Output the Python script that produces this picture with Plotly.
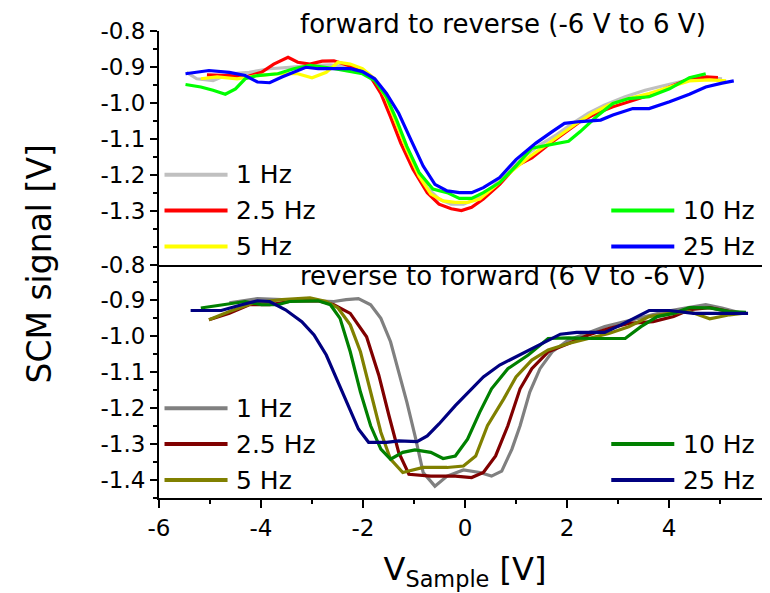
import plotly.graph_objects as go

# ---------------- data ----------------
freq_labels = ["1 Hz", "2.5 Hz", "5 Hz", "10 Hz", "25 Hz"]
top_colors = ["#C0C0C0", "#FF0000", "#FFFF00", "#00FF00", "#0000FF"]
bottom_colors = ["#808080", "#800000", "#808000", "#008000", "#000080"]

top_title = "forward to reverse (-6 V to 6 V)"
bottom_title = "reverse to forward (6 V to -6 V)"

# forward to reverse (top panel)
fr_1hz_v = [-5.46, -5.26, -4.94, -4.62, -4.23, -3.83, -3.44, -3.04, -2.64, -2.25, -1.93, -1.69, -1.46, -1.22, -0.98, -0.74, -0.51, -0.27, -0.03, 0.21, 0.52, 0.84, 1.16, 1.47, 1.79, 2.11, 2.42, 2.74, 3.14, 3.53, 3.93, 4.32, 4.72, 5.04]
fr_1hz_s = [-0.915, -0.933, -0.938, -0.919, -0.915, -0.905, -0.901, -0.896, -0.894, -0.901, -0.919, -0.956, -1.020, -1.103, -1.176, -1.236, -1.268, -1.282, -1.282, -1.268, -1.236, -1.194, -1.149, -1.117, -1.089, -1.057, -1.029, -1.006, -0.983, -0.965, -0.951, -0.938, -0.930, -0.933]

fr_2p5hz_v = [-5.06, -4.62, -4.31, -3.99, -3.75, -3.47, -3.28, -3.04, -2.80, -2.57, -2.33, -2.09, -1.85, -1.65, -1.46, -1.26, -1.02, -0.74, -0.51, -0.27, -0.07, 0.13, 0.36, 0.68, 1.00, 1.31, 1.63, 1.95, 2.26, 2.58, 2.90, 3.21, 3.61, 4.01, 4.32, 4.72, 4.96]
fr_2p5hz_s = [-0.922, -0.924, -0.928, -0.915, -0.892, -0.873, -0.887, -0.892, -0.884, -0.883, -0.894, -0.905, -0.928, -0.974, -1.039, -1.112, -1.185, -1.250, -1.282, -1.295, -1.300, -1.291, -1.268, -1.227, -1.176, -1.153, -1.117, -1.085, -1.052, -1.029, -1.011, -0.997, -0.979, -0.956, -0.938, -0.928, -0.930]

fr_5hz_v = [-5.18, -4.86, -4.47, -4.07, -3.67, -3.28, -3.00, -2.72, -2.49, -2.25, -2.01, -1.77, -1.54, -1.34, -1.14, -0.90, -0.67, -0.43, -0.19, 0.05, 0.29, 0.60, 0.92, 1.24, 1.55, 1.87, 2.19, 2.50, 2.82, 3.21, 3.61, 4.01, 4.40, 4.80, 5.12]
fr_5hz_s = [-0.933, -0.928, -0.933, -0.924, -0.919, -0.919, -0.930, -0.915, -0.887, -0.892, -0.905, -0.933, -0.988, -1.057, -1.130, -1.204, -1.254, -1.273, -1.277, -1.277, -1.268, -1.231, -1.190, -1.153, -1.121, -1.089, -1.057, -1.029, -1.006, -0.988, -0.974, -0.956, -0.939, -0.936, -0.939]

fr_10hz_v = [-5.48, -5.18, -4.94, -4.70, -4.50, -4.31, -4.07, -3.67, -3.36, -3.04, -2.64, -2.33, -2.01, -1.77, -1.54, -1.34, -1.14, -0.90, -0.63, -0.35, -0.11, 0.13, 0.36, 0.68, 1.00, 1.31, 1.63, 2.03, 2.26, 2.58, 2.90, 3.21, 3.61, 4.01, 4.40, 4.72]
fr_10hz_s = [-0.949, -0.956, -0.965, -0.976, -0.961, -0.933, -0.924, -0.919, -0.905, -0.896, -0.903, -0.910, -0.919, -0.938, -0.983, -1.048, -1.121, -1.194, -1.240, -1.250, -1.266, -1.266, -1.250, -1.222, -1.176, -1.126, -1.117, -1.107, -1.080, -1.038, -1.002, -0.988, -0.983, -0.961, -0.930, -0.919]

fr_25hz_v = [-5.48, -5.02, -4.62, -4.31, -4.07, -3.83, -3.59, -3.36, -3.12, -2.88, -2.57, -2.25, -2.01, -1.77, -1.54, -1.30, -1.06, -0.82, -0.59, -0.35, -0.11, 0.13, 0.36, 0.68, 1.00, 1.39, 1.71, 1.95, 2.26, 2.66, 2.90, 3.29, 3.61, 4.01, 4.40, 4.72, 5.04, 5.27]
fr_25hz_s = [-0.919, -0.910, -0.915, -0.924, -0.942, -0.944, -0.928, -0.915, -0.901, -0.905, -0.905, -0.905, -0.913, -0.933, -0.974, -1.029, -1.103, -1.176, -1.227, -1.245, -1.250, -1.250, -1.236, -1.208, -1.158, -1.112, -1.080, -1.057, -1.052, -1.048, -1.034, -1.016, -1.016, -0.997, -0.976, -0.956, -0.945, -0.939]

# reverse to forward (bottom panel)
rf_1hz_v = [-4.62, -4.07, -3.59, -3.04, -2.57, -2.33, -2.09, -1.85, -1.65, -1.46, -1.30, -1.14, -0.98, -0.82, -0.59, -0.35, -0.03, 0.29, 0.52, 0.72, 0.92, 1.08, 1.27, 1.47, 1.71, 2.03, 2.34, 2.74, 3.14, 3.53, 3.93, 4.32, 4.72, 5.04, 5.43]
rf_1hz_s = [-0.907, -0.895, -0.898, -0.901, -0.903, -0.898, -0.895, -0.912, -0.950, -1.015, -1.099, -1.183, -1.277, -1.379, -1.417, -1.389, -1.372, -1.379, -1.389, -1.375, -1.314, -1.249, -1.155, -1.090, -1.043, -1.010, -0.994, -0.973, -0.959, -0.945, -0.931, -0.921, -0.912, -0.921, -0.936]

rf_2p5hz_v = [-5.02, -4.62, -4.23, -3.83, -3.36, -2.88, -2.57, -2.25, -1.93, -1.69, -1.49, -1.30, -1.10, -0.67, -0.19, 0.13, 0.36, 0.60, 0.84, 1.08, 1.31, 1.63, 2.03, 2.42, 2.82, 3.21, 3.69, 4.09, 4.40, 4.80, 5.19, 5.43]
rf_2p5hz_s = [-0.954, -0.936, -0.912, -0.912, -0.901, -0.901, -0.912, -0.936, -1.001, -1.108, -1.221, -1.323, -1.384, -1.389, -1.389, -1.393, -1.379, -1.333, -1.249, -1.146, -1.090, -1.043, -1.020, -0.996, -0.978, -0.964, -0.959, -0.945, -0.926, -0.920, -0.931, -0.936]

rf_5hz_v = [-5.02, -4.62, -4.15, -3.59, -3.04, -2.72, -2.49, -2.25, -2.05, -1.85, -1.65, -1.46, -1.22, -0.82, -0.35, -0.03, 0.21, 0.44, 0.76, 1.00, 1.31, 1.63, 2.03, 2.42, 2.82, 3.21, 3.61, 4.01, 4.40, 4.80, 5.19, 5.43]
rf_5hz_s = [-0.954, -0.931, -0.907, -0.898, -0.893, -0.903, -0.921, -0.968, -1.043, -1.155, -1.267, -1.342, -1.379, -1.365, -1.365, -1.361, -1.333, -1.249, -1.174, -1.113, -1.066, -1.038, -1.020, -1.006, -0.992, -0.973, -0.945, -0.936, -0.931, -0.951, -0.940, -0.936]

rf_10hz_v = [-5.18, -4.78, -4.31, -3.99, -3.67, -3.44, -2.88, -2.64, -2.45, -2.25, -2.05, -1.85, -1.65, -1.46, -1.22, -0.98, -0.67, -0.43, -0.19, 0.05, 0.29, 0.52, 0.84, 1.24, 1.63, 2.03, 2.50, 3.14, 3.45, 3.77, 4.09, 4.40, 4.80, 5.19, 5.51]
rf_10hz_s = [-0.921, -0.912, -0.903, -0.912, -0.912, -0.903, -0.901, -0.912, -0.950, -1.043, -1.155, -1.249, -1.314, -1.342, -1.323, -1.316, -1.323, -1.340, -1.333, -1.286, -1.211, -1.146, -1.090, -1.052, -1.006, -1.004, -1.006, -1.006, -0.973, -0.945, -0.936, -0.920, -0.921, -0.931, -0.933]

rf_25hz_v = [-5.38, -4.78, -4.38, -4.07, -3.83, -3.52, -3.20, -2.96, -2.72, -2.49, -2.25, -2.09, -1.89, -1.54, -1.30, -0.94, -0.74, -0.51, -0.19, 0.13, 0.36, 0.68, 1.00, 1.31, 1.63, 1.87, 2.19, 2.74, 3.06, 3.37, 3.61, 4.01, 4.48, 5.04, 5.55]
rf_25hz_s = [-0.928, -0.928, -0.912, -0.901, -0.903, -0.926, -0.959, -0.996, -1.052, -1.127, -1.202, -1.258, -1.295, -1.295, -1.291, -1.293, -1.277, -1.244, -1.193, -1.146, -1.113, -1.080, -1.057, -1.034, -1.010, -0.994, -0.989, -0.989, -0.968, -0.945, -0.928, -0.928, -0.936, -0.936, -0.936]

x_ticks = [-6, -4, -2, 0, 2, 4, 6]
x_ticktext = ["-6", "-4", "-2", "0", "2", "4", "6"]
y_ticks_top = [-1.3, -1.2, -1.1, -1.0, -0.9, -0.8]
y_ticktext_top = ["-1.3", "-1.2", "-1.1", "-1.0", "-0.9", "-0.8"]
y_ticks_bottom = [-1.4, -1.3, -1.2, -1.1, -1.0, -0.9, -0.8]
y_ticktext_bottom = ["-1.4", "-1.3", "-1.2", "-1.1", "-1.0", "-0.9", "-0.8"]
legend_levels = [-1.2, -1.3, -1.4, -1.3, -1.4]

top_series = [(fr_1hz_v, fr_1hz_s), (fr_2p5hz_v, fr_2p5hz_s), (fr_5hz_v, fr_5hz_s),
              (fr_10hz_v, fr_10hz_s), (fr_25hz_v, fr_25hz_s)]
bottom_series = [(rf_1hz_v, rf_1hz_s), (rf_2p5hz_v, rf_2p5hz_s), (rf_5hz_v, rf_5hz_s),
                 (rf_10hz_v, rf_10hz_s), (rf_25hz_v, rf_25hz_s)]

# ---------------- figure ----------------
FONT = "DejaVu Sans"
fig = go.Figure()

for (v, s), name, col in zip(top_series, freq_labels, top_colors):
    fig.add_trace(go.Scatter(x=v, y=s, mode="lines", name=name, xaxis="x2", yaxis="y2",
                             line=dict(color=col, width=3.2), showlegend=False))
for (v, s), name, col in zip(bottom_series, freq_labels, bottom_colors):
    fig.add_trace(go.Scatter(x=v, y=s, mode="lines", name=name, xaxis="x", yaxis="y",
                             line=dict(color=col, width=3.2), showlegend=False))

# legend drawn as line samples + text (layout decoration)
shapes = []
annotations = []
for i, (name, lev) in enumerate(zip(freq_labels, legend_levels)):
    left = i < 3
    x0, x1, xt = (0.009, 0.112, 0.122) if left else (0.739, 0.842, 0.853)
    for yref, cols in (("y2", top_colors), ("y", bottom_colors)):
        shapes.append(dict(type="line", xref="paper", yref=yref, x0=x0, x1=x1, y0=lev, y1=lev,
                           line=dict(color=cols[i], width=4)))
        annotations.append(dict(text=name, xref="paper", yref=yref, x=xt, y=lev,
                                xanchor="left", yanchor="middle", showarrow=False,
                                font=dict(family=FONT, size=25, color="black")))

annotations.append(dict(text=top_title, xref="paper", yref="paper", x=0.562, y=1.014,
                        xanchor="center", yanchor="middle", showarrow=False,
                        font=dict(family=FONT, size=26, color="black")))
annotations.append(dict(text=bottom_title, xref="paper", yref="paper", x=0.562, y=0.476,
                        xanchor="center", yanchor="middle", showarrow=False,
                        font=dict(family=FONT, size=26, color="black")))
annotations.append(dict(text="SCM signal [V]", xref="paper", yref="paper", x=-0.196, y=0.5,
                        xanchor="center", yanchor="middle", textangle=-90, showarrow=False,
                        font=dict(family=FONT, size=33, color="black")))

axis_common = dict(showline=True, linecolor="black", linewidth=2, showgrid=False, zeroline=False,
                   ticks="outside", tickcolor="black", tickwidth=2,
                   tickfont=dict(family=FONT, size=23, color="black"))

fig.update_layout(
    width=770, height=593,
    margin=dict(l=151, r=7, t=23, b=103),
    plot_bgcolor="white", paper_bgcolor="white",
    showlegend=False,
    xaxis=dict(domain=[0, 1], range=[-6, 6], anchor="y", tickvals=x_ticks, ticktext=x_ticktext,
               ticklen=8,
               minor=dict(ticks="outside", ticklen=4, tickwidth=2, tickcolor="black", dtick=1, tick0=-6),
               title=dict(text="V<sub>Sample</sub> [V]", font=dict(family=FONT, size=32, color="black"),
                          standoff=18),
               **axis_common),
    xaxis2=dict(domain=[0, 1], range=[-6, 6], anchor="y2", matches="x", showticklabels=False,
                showline=True, linecolor="black", linewidth=2, showgrid=False, zeroline=False, ticks=""),
    yaxis=dict(domain=[0, 0.5], range=[-1.45, -0.8], anchor="x", tickvals=y_ticks_bottom,
               ticktext=y_ticktext_bottom, ticklen=7,
               minor=dict(ticks="outside", ticklen=4, tickwidth=2, tickcolor="black", dtick=0.05, tick0=-0.8),
               **axis_common),
    yaxis2=dict(domain=[0.5, 1], range=[-1.45, -0.8], anchor="x2", tickvals=y_ticks_top,
                ticktext=y_ticktext_top, ticklen=7,
                minor=dict(ticks="outside", ticklen=4, tickwidth=2, tickcolor="black", dtick=0.05, tick0=-0.8),
                **axis_common),
    shapes=shapes,
    annotations=annotations,
)

fig.write_html("out.html")
